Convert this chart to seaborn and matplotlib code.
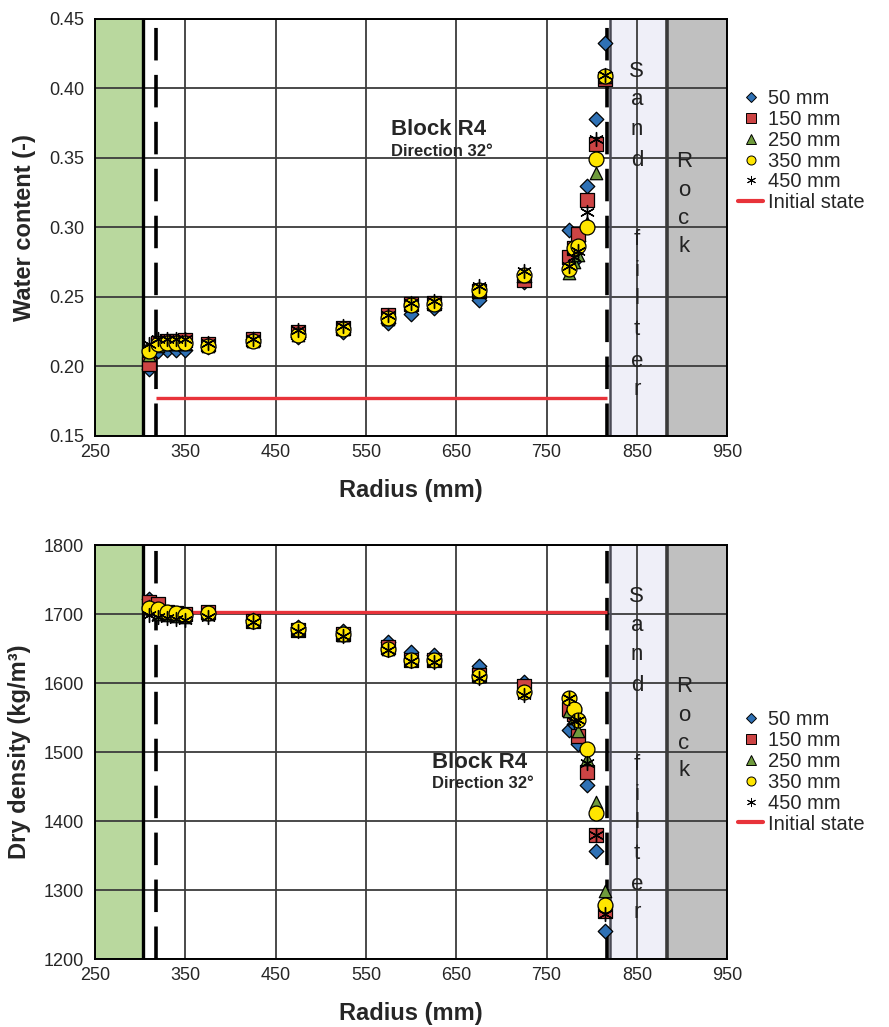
import numpy as np
import pandas as pd
import matplotlib
matplotlib.use("Agg")
import matplotlib.pyplot as plt
from matplotlib.lines import Line2D
import seaborn as sns

# Measurement radii (mm)
radius = [310, 320, 330, 340, 350, 375, 425, 475, 525, 575, 600, 625,
          675, 725, 775, 780, 785, 795, 805, 815]

series = ["50 mm", "150 mm", "250 mm", "350 mm", "450 mm"]

# Water content (-) per depth
wc_50 = [0.198, 0.211, 0.212, 0.212, 0.212, 0.214, 0.220, 0.221, 0.225, 0.231,
         0.238, 0.242, 0.248, 0.261, 0.298, 0.276, 0.290, 0.330, 0.378, 0.433]
wc_150 = [0.202, 0.217, 0.218, 0.218, 0.219, 0.216, 0.220, 0.225, 0.228, 0.237,
          0.245, 0.246, 0.254, 0.262, 0.279, 0.285, 0.295, 0.320, 0.360, 0.407]
wc_250 = [0.208, 0.215, 0.216, 0.216, 0.216, 0.215, 0.218, 0.223, 0.227, 0.234,
          0.244, 0.245, 0.254, 0.265, 0.267, 0.275, 0.280, 0.303, 0.339, 0.408]
wc_350 = [0.211, 0.216, 0.217, 0.217, 0.217, 0.215, 0.218, 0.223, 0.227, 0.235,
          0.244, 0.245, 0.255, 0.266, 0.270, 0.285, 0.287, 0.300, 0.349, 0.409]
wc_450 = [0.216, 0.220, 0.220, 0.220, 0.220, 0.217, 0.220, 0.226, 0.229, 0.237,
          0.246, 0.247, 0.258, 0.269, 0.272, 0.279, 0.283, 0.311, 0.364, 0.410]

# Dry density (kg/m3) per depth
dd_50 = [1722, 1712, 1700, 1699, 1698, 1701, 1692, 1681, 1676, 1659,
         1645, 1641, 1625, 1601, 1532, 1540, 1512, 1452, 1357, 1240]
dd_150 = [1718, 1714, 1703, 1702, 1700, 1703, 1690, 1677, 1671, 1652,
          1634, 1633, 1612, 1595, 1563, 1555, 1523, 1471, 1380, 1270]
dd_250 = [1712, 1700, 1698, 1697, 1696, 1700, 1690, 1677, 1670, 1650,
          1633, 1633, 1610, 1588, 1560, 1550, 1530, 1490, 1428, 1298]
dd_350 = [1709, 1707, 1703, 1702, 1699, 1702, 1690, 1678, 1671, 1650,
          1633, 1634, 1610, 1587, 1578, 1562, 1546, 1504, 1411, 1278]
dd_450 = [1698, 1695, 1694, 1693, 1692, 1696, 1688, 1675, 1668, 1648,
          1632, 1631, 1608, 1582, 1578, 1545, 1546, 1484, 1380, 1265]

# Initial state and geometry of the test (mm)
initial_wc = 0.177
initial_dd = 1703
initial_span = [317, 817]
canister_edge = 303
inner_dashed = 317
outer_dashed = 817
sand_span = [820, 883]
rock_span = [883, 950]

wc_ticks = [0.15, 0.20, 0.25, 0.30, 0.35, 0.40, 0.45]
dd_ticks = [1200, 1300, 1400, 1500, 1600, 1700, 1800]
x_ticks = [250, 350, 450, 550, 650, 750, 850, 950]

colors = {"50 mm": "#2F71B5", "150 mm": "#CC4444", "250 mm": "#6F9B3D",
          "350 mm": "#FFE600", "450 mm": "#000000"}
markers = {"50 mm": "D", "150 mm": "s", "250 mm": "^", "350 mm": "o",
           "450 mm": (6, 2, 0)}
sizes = {"50 mm": 55, "150 mm": 90, "250 mm": 80, "350 mm": 115, "450 mm": 100}

wc = pd.DataFrame({
    "radius": np.tile(radius, 5),
    "value": np.concatenate([wc_50, wc_150, wc_250, wc_350, wc_450]),
    "depth": np.repeat(series, len(radius)),
})
dd = pd.DataFrame({
    "radius": np.tile(radius, 5),
    "value": np.concatenate([dd_50, dd_150, dd_250, dd_350, dd_450]),
    "depth": np.repeat(series, len(radius)),
})

sns.set_theme(style="white")
plt.rcParams["font.family"] = ["Liberation Sans", "DejaVu Sans"]

fig = plt.figure(figsize=(8.89, 10.27), dpi=100)
ax_top = fig.add_axes([0.1069, 0.5755, 0.711, 0.406])
ax_bot = fig.add_axes([0.1069, 0.0662, 0.711, 0.4031])

sand_letters = ["S", "a", "n", "d", "f", "i", "l", "t", "e", "r"]
sand_y = [0.875, 0.806, 0.735, 0.661, 0.470, 0.398, 0.330, 0.255, 0.179, 0.112]
rock_letters = ["R", "o", "c", "k"]
rock_y = [0.658, 0.589, 0.521, 0.455]


def draw_panel(ax, df, initial, ylim, yticks, yfmt, ylabel, legend_anchor,
               title_xy):
    # zones: buffer, sand filter, rock
    ax.axvspan(250, canister_edge, color="#B9D89E", zorder=0, lw=0)
    ax.axvspan(sand_span[0], sand_span[1], color="#EFEFF8", zorder=0, lw=0)
    ax.axvspan(rock_span[0], rock_span[1], color="#C0C0C0", zorder=0, lw=0)
    ax.set_axisbelow(True)
    ax.grid(True, color="#3c3c3c", linewidth=1.3)

    ax.axvline(canister_edge, color="black", lw=2.4, zorder=1.5)
    ax.axvline(inner_dashed, color="black", lw=2.6, ls=(0, (9, 4)), zorder=1.5)
    ax.axvline(outer_dashed, color="black", lw=2.6, ls=(0, (9, 4)), zorder=1.5)
    ax.axvline(sand_span[0], color="#4a4a55", lw=1.8, zorder=1.5)
    ax.axvline(sand_span[1], color="#3a3a3a", lw=2.6, zorder=1.5)

    ax.plot(initial_span, [initial, initial], color="#E8333A", lw=2.4,
            zorder=2, solid_capstyle="butt")

    for name in series:
        sub = df[df["depth"] == name]
        sns.scatterplot(data=sub, x="radius", y="value", ax=ax,
                        marker=markers[name], color=colors[name],
                        s=sizes[name], edgecolor="black",
                        linewidth=0.9 if name != "450 mm" else 1.0,
                        legend=False, zorder=3)

    ax.set_xlim(250, 950)
    ax.set_ylim(*ylim)
    ax.set_xticks(x_ticks)
    ax.set_yticks(yticks)
    ax.set_yticklabels([yfmt.format(v) for v in yticks])
    ax.tick_params(labelsize=13, length=0, pad=8)
    ax.tick_params(axis="x", pad=6)
    ax.set_xlabel("Radius (mm)", fontsize=17, fontweight="bold", labelpad=13)
    ax.set_ylabel(ylabel, fontsize=17, fontweight="bold", labelpad=9)
    for sp in ax.spines.values():
        sp.set_color("black")
        sp.set_linewidth(1.4)

    tr = ax.get_xaxis_transform()
    for ch, yy in zip(sand_letters, sand_y):
        ax.text(850, yy, ch, transform=tr, ha="center", va="center",
                fontsize=16, color="#222222")
    for ch, yy in zip(rock_letters, rock_y):
        ax.text(902, yy, ch, transform=tr, ha="center", va="center",
                fontsize=16, color="#222222")

    ax.text(title_xy[0], title_xy[1], "Block R4", transform=ax.transAxes,
            fontsize=16, fontweight="bold", ha="left", va="baseline")
    ax.text(title_xy[0], title_xy[1] - 0.05, "Direction 32°",
            transform=ax.transAxes, fontsize=12, fontweight="bold",
            ha="left", va="baseline")

    handles = [Line2D([], [], ls="none", marker=markers[n],
                      markerfacecolor=colors[n], markeredgecolor="black",
                      markeredgewidth=0.7, color="black",
                      markersize=6.5 if n != "50 mm" else 5.5)
               for n in series]
    handles.append(Line2D([], [], color="#E8333A", lw=3))
    labels = series + ["Initial state"]
    fig.legend(handles, labels, loc="upper left",
               bbox_to_anchor=legend_anchor, frameon=False, fontsize=14.5,
               handlelength=1.25, handletextpad=0.25, labelspacing=0.09,
               borderpad=0)


draw_panel(ax_top, wc, initial_wc, (0.15, 0.45), wc_ticks, "{:.2f}",
           "Water content (-)", (0.819, 0.923), (0.468, 0.722))
draw_panel(ax_bot, dd, initial_dd, (1200, 1800), dd_ticks, "{:d}",
           "Dry density (kg/m³)", (0.819, 0.318), (0.533, 0.462))

fig.savefig("out.png", dpi=100)
